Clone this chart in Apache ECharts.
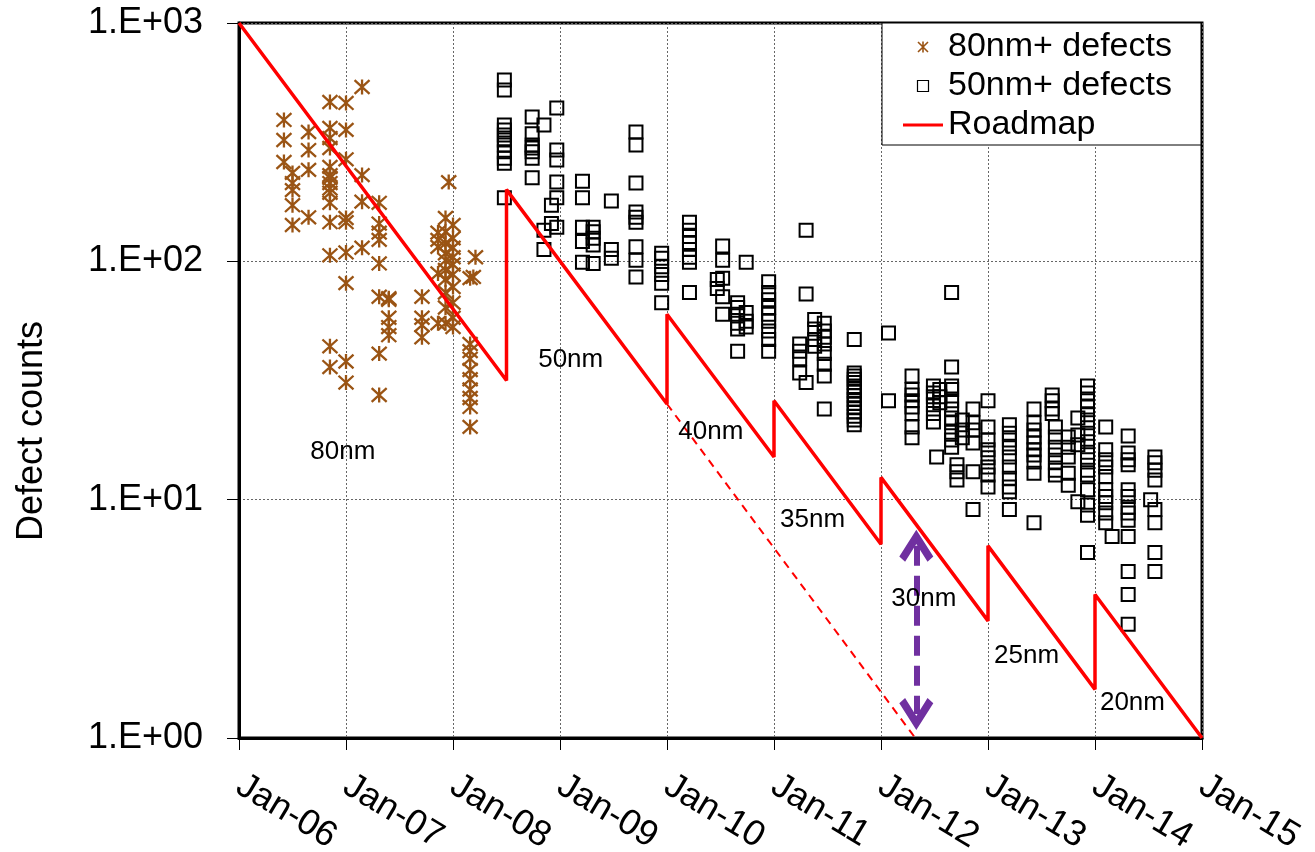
<!DOCTYPE html>
<html>
<head>
<meta charset="utf-8">
<script src="https://cdn.jsdelivr.net/npm/echarts@6/dist/echarts.min.js"></script>
<style>
html,body{margin:0;padding:0;background:#fff;}
#chart{width:1315px;height:852px;}
</style>
</head>
<body>
<div id="chart"></div>
<script>
// x values are decimal years, y values are defect counts
const xTicks = [2006, 2007, 2008, 2009, 2010, 2011, 2012, 2013, 2014, 2015];
const yTicks = [1, 10, 100, 1000];

const defects80 = [
 [2006.42,392],[2006.42,323],[2006.42,261],
 [2006.50,235],[2006.50,213],[2006.50,199],[2006.50,172],[2006.50,142],
 [2006.65,349],[2006.65,293],[2006.65,242],[2006.65,153],
 [2006.85,466],[2006.85,363],[2006.85,329],[2006.85,299],[2006.85,249],[2006.85,230],[2006.85,224],[2006.85,213],[2006.85,202],[2006.85,194],[2006.85,176],[2006.85,146],[2006.85,106],[2006.85,44],[2006.85,36],
 [2007.00,462],[2007.00,356],[2007.00,268],[2007.00,152],[2007.00,146],[2007.00,109],[2007.00,81],[2007.00,38],[2007.00,31],
 [2007.15,539],[2007.15,230],[2007.15,178],[2007.15,114],
 [2007.31,176],[2007.31,144],[2007.31,132],[2007.31,123],[2007.31,98],[2007.31,71],[2007.31,41],[2007.31,27.5],
 [2007.40,70],[2007.40,69],[2007.40,58],[2007.40,53],[2007.40,49],
 [2007.71,71],[2007.71,58],[2007.71,54],[2007.71,48],
 [2007.86,132],[2007.86,123],[2007.86,115],[2007.86,89],[2007.86,55],
 [2007.96,215],
 [2007.93,152],[2008.00,142],[2007.93,133],[2008.00,125],[2007.93,119],[2008.00,114],[2007.93,108],[2008.00,104],[2007.93,101],[2008.00,97],
 [2007.93,92],[2008.00,88],[2007.93,84],[2008.00,78],[2007.93,74],[2008.00,67],[2007.93,64],[2008.00,58],[2007.93,55],[2008.00,53],
 [2008.21,104],[2008.19,86],[2008.16,85],
 [2008.16,45],[2008.16,42],[2008.16,39],[2008.16,35],[2008.16,32],[2008.16,29],[2008.16,26.7],[2008.16,24.5],[2008.16,20.2]
];

const defects50 = [
 [2008.48,576],[2008.48,523],[2008.48,373],[2008.48,356],[2008.48,339],[2008.48,323],[2008.48,308],[2008.48,288],[2008.48,271],[2008.48,258],[2008.48,185],
 [2008.74,403],[2008.74,343],[2008.74,308],[2008.74,299],[2008.74,288],[2008.74,271],[2008.74,224],
 [2008.85,373],[2008.85,135],[2008.85,112],
 [2008.92,172],[2008.92,144],
 [2008.97,440],[2008.97,293],[2008.97,266],[2008.97,215],[2008.97,185],[2008.97,139],
 [2009.21,217],[2009.21,185],[2009.21,139],[2009.21,121],[2009.21,99],
 [2009.31,139],[2009.31,133],[2009.31,125],[2009.31,117],[2009.31,98],
 [2009.48,179],[2009.48,112],[2009.48,103],
 [2009.71,349],[2009.71,308],[2009.71,213],[2009.71,161],[2009.71,153],[2009.71,146],[2009.71,115],[2009.71,101],[2009.71,86],
 [2009.95,108],[2009.95,103],[2009.95,95],[2009.95,88],[2009.95,81],[2009.95,67],
 [2010.21,146],[2010.21,135],[2010.21,127],[2010.21,120],[2010.21,112],[2010.21,104],[2010.21,99],[2010.21,74],
 [2010.52,116],[2010.52,101],[2010.52,85],[2010.52,71],[2010.52,60],[2010.47,84],[2010.47,77],
 [2010.74,99],[2010.74,61],[2010.74,56],[2010.74,53],
 [2010.66,67],[2010.66,64],[2010.66,60],[2010.66,55],[2010.66,52],[2010.66,42],
 [2010.95,82],[2010.95,74],[2010.95,69],[2010.95,64],[2010.95,60],[2010.95,56],[2010.95,51],[2010.95,47],[2010.95,42],
 [2011.24,45],[2011.24,42],[2011.24,39],[2011.24,34],
 [2011.30,135],[2011.30,73],[2011.30,31],
 [2011.38,57],[2011.38,52],[2011.38,47],[2011.38,44],
 [2011.47,55],[2011.47,51],[2011.47,48],[2011.47,45],[2011.47,41],[2011.47,37],[2011.47,33],[2011.47,24],
 [2011.75,47],[2011.75,34],[2011.75,33],[2011.75,32],[2011.75,31],[2011.75,29.5],[2011.75,28.5],[2011.75,27.3],[2011.75,26.3],[2011.75,25.3],[2011.75,24.3],[2011.75,23.3],[2011.75,22.4],[2011.75,21.6],[2011.75,20.6],
 [2012.07,50],[2012.07,26],
 [2012.29,33],[2012.29,29],[2012.29,27.5],[2012.29,26],[2012.29,24.5],[2012.29,23],[2012.29,20.2],[2012.29,18.2],
 [2012.49,30],[2012.49,28],[2012.49,27],[2012.49,25],[2012.49,23],[2012.49,21.2],[2012.52,15.1],
 [2012.55,29],[2012.55,27],[2012.55,25.5],
 [2012.66,74],[2012.66,36],[2012.66,30],[2012.66,29],[2012.66,26],[2012.66,24],[2012.66,22],[2012.66,21],[2012.66,19.2],[2012.66,17.8],[2012.66,16.6],
 [2012.71,14],[2012.71,13.1],[2012.71,12.1],
 [2012.76,21.6],[2012.76,19.6],[2012.76,18.2],
 [2012.86,24],[2012.86,21],[2012.86,19.6],[2012.86,17.3],[2012.86,13.1],[2012.86,9.1],
 [2013.00,26],[2013.00,20.2],[2013.00,17.8],[2013.00,16.2],[2013.00,15],[2013.00,13.7],[2013.00,12.7],[2013.00,11.3],
 [2013.20,20.6],[2013.20,19],[2013.20,17.8],[2013.20,16.5],[2013.20,15.1],[2013.20,13.7],[2013.20,12.3],[2013.20,11.3],[2013.20,10.8],[2013.20,9.1],
 [2013.43,24],[2013.43,21],[2013.43,19.6],[2013.43,18.3],[2013.43,17.3],[2013.43,16.2],[2013.43,15.4],[2013.43,14.4],[2013.43,12.9],[2013.43,8],
 [2013.60,27.5],[2013.60,26],[2013.60,24],[2013.60,23],[2013.63,20.2],[2013.63,18.3],[2013.63,16.6],[2013.63,15.4],[2013.63,14.3],[2013.63,13.3],[2013.63,12.7],
 [2013.75,18.3],[2013.75,16.6],[2013.75,15.1],[2013.75,12.9],[2013.75,11.5],
 [2013.84,22],[2013.84,18.7],[2013.84,17],[2013.84,9.8],
 [2013.93,30],[2013.93,28],[2013.93,26],[2013.93,24.5],[2013.93,22.7],[2013.93,21],[2013.93,19],[2013.93,17.5],[2013.93,15.8],[2013.93,14.7],[2013.93,13.3],[2013.93,12.7],[2013.93,11],[2013.93,9.5],[2013.93,8.6],[2013.93,6],
 [2014.10,20.2],[2014.10,16.2],[2014.10,14.7],[2014.10,13.7],[2014.10,12.5],[2014.10,11],[2014.10,10.3],[2014.10,9.7],[2014.10,8.8],[2014.10,8],
 [2014.16,7],
 [2014.31,18.5],[2014.31,15.7],[2014.31,14.7],[2014.31,14],[2014.31,11],[2014.31,10.3],[2014.31,9.3],[2014.31,8.8],[2014.31,8.2],[2014.31,7],[2014.31,5],[2014.31,4],[2014.31,3],
 [2014.56,15.1],[2014.56,14.3],[2014.56,13.3],[2014.56,12.1],[2014.52,10],[2014.56,9.1],[2014.56,8],[2014.56,6],[2014.56,5]
];

const roadmapX = [2006, 2008.5, 2008.5, 2010, 2010, 2011, 2011, 2012, 2012, 2013, 2013, 2014, 2014, 2015];
const roadmapY = [1000, 31.6, 200, 25.2, 60, 15.1, 26, 6.5, 12.4, 3.1, 6.4, 1.6, 4, 1];

const extendX = [2010, 2012.32];
const extendY = [25.2, 1.0];

const arrowX = [2012.33, 2012.33];
const arrowY = [6.4, 1.26];

const nodeText = ['80nm', '50nm', '40nm', '35nm', '30nm', '25nm', '20nm'];
const nodeX = [2006.97, 2009.10, 2010.41, 2011.36, 2012.40, 2013.36, 2014.35];
const nodeY = [15.8, 38.6, 19.2, 8.2, 3.83, 2.21, 1.40];

const FONT = '"Liberation Sans", Arial, sans-serif';
const BROWN = '#9A5414';

const chart = echarts.init(document.getElementById('chart'), null, {renderer: 'canvas'});

const asterisk = 'path://M0,0L10,10M10,0L0,10M5,-0.5L5,10.5';
const squareIcon = 'path://M0,0L10,0L10,10L0,10Z';
const lineIcon = 'path://M0,0L40,0L40,3L0,3Z';
const chevron = 'path://M5,0L10,7.6L8.3,9.1L5,4L1.7,9.1L0,7.6Z';

const option = {
  animation: false,
  backgroundColor: '#fff',
  textStyle: {fontFamily: FONT},
  grid: {left: 239, right: 113, top: 23, bottom: 114, show: true, borderColor: '#000', borderWidth: 3, backgroundColor: 'transparent', containLabel: false, outerBoundsMode: 'none'},
  legend: {
    show: true,
    orient: 'vertical',
    left: 882, top: 23,
    data: [
      {name: '80nm+ defects', icon: asterisk, itemStyle: {color: 'rgba(0,0,0,0)', borderColor: BROWN, borderWidth: 1.6}},
      {name: '50nm+ defects', icon: squareIcon, itemStyle: {color: 'rgba(0,0,0,0)', borderColor: '#000', borderWidth: 1.2}},
      {name: 'Roadmap', icon: lineIcon, itemStyle: {color: '#FF0000', borderWidth: 0}}
    ],
    symbolKeepAspect: true,
    backgroundColor: '#fff',
    borderColor: '#000', borderWidth: 1, borderRadius: 0,
    padding: [7, 29, 3, 21],
    itemWidth: 40, itemHeight: 11, itemGap: 5,
    textStyle: {fontFamily: FONT, fontSize: 34, color: '#000'},
    selectedMode: false
  },
  graphic: [{
    type: 'text', x: 32, y: 431, rotation: Math.PI / 2,
    style: {text: 'Defect counts', font: '36px ' + FONT, fill: '#000', align: 'center', verticalAlign: 'middle', textAlign: 'center', textVerticalAlign: 'middle'}
  }],
  xAxis: {
    type: 'value', min: xTicks[0], max: xTicks[xTicks.length - 1], interval: 1,
    axisLine: {show: true, onZero: false, lineStyle: {color: '#000', width: 3}},
    axisTick: {show: true, length: 12, lineStyle: {color: '#000', width: 1}},
    axisLabel: {
      rotate: -31, margin: 45, interval: 0, hideOverlap: false,
      fontFamily: FONT, fontSize: 36, color: '#000',
      formatter: v => 'Jan-' + String(Math.round(v) % 100).padStart(2, '0')
    },
    splitLine: {show: true, lineStyle: {color: '#666', width: 1, type: [2, 2]}}
  },
  yAxis: {
    type: 'log', logBase: 10, min: yTicks[0], max: yTicks[yTicks.length - 1],
    axisLine: {show: true, lineStyle: {color: '#000', width: 3}},
    axisTick: {show: true, length: 12, lineStyle: {color: '#000', width: 1}},
    axisLabel: {
      margin: 36, fontFamily: FONT, fontSize: 36, color: '#000',
      formatter: v => '1.E+0' + Math.round(Math.log10(v))
    },
    splitLine: {show: true, lineStyle: {color: '#666', width: 1, type: [2, 2]}}
  },
  series: [
    {
      name: '80nm+ defects', type: 'scatter', data: defects80,
      symbol: asterisk, symbolSize: 15,
      itemStyle: {color: 'rgba(0,0,0,0)', borderColor: BROWN, borderWidth: 2.3, opacity: 1},
      z: 3, silent: true
    },
    {
      name: '50nm+ defects', type: 'scatter', data: defects50,
      symbol: 'rect', symbolSize: 13,
      itemStyle: {color: 'rgba(0,0,0,0)', borderColor: '#000', borderWidth: 2, opacity: 1},
      z: 3, silent: true
    },
    {
      name: 'Roadmap', type: 'line', data: roadmapX.map((x, i) => [x, roadmapY[i]]),
      symbol: 'none', lineStyle: {color: '#FF0000', width: 3.5}, itemStyle: {color: '#FF0000'},
      z: 4, silent: true
    },
    {
      name: 'extension', type: 'line', data: extendX.map((x, i) => [x, extendY[i]]),
      symbol: 'none', lineStyle: {color: '#FF0000', width: 2, type: [8, 6]},
      z: 4, silent: true
    },
    {
      name: 'arrow', type: 'line', data: [], silent: true,
      markLine: {
        silent: true, animation: false,
        symbol: [chevron, chevron], symbolSize: [34, 32],
        label: {show: false},
        lineStyle: {color: '#7030A0', width: 6, type: [20, 10]},
        emphasis: {disabled: true},
        data: [[{coord: [arrowX[0], arrowY[0]]}, {coord: [arrowX[1], arrowY[1]]}]]
      },
      z: 5
    },
    {
      name: 'nodes', type: 'scatter', symbolSize: 0, silent: true,
      data: nodeX.map((x, i) => [x, nodeY[i], nodeText[i]]),
      itemStyle: {opacity: 1},
      label: {show: true, position: 'inside', formatter: p => p.data[2], fontFamily: FONT, fontSize: 26, color: '#000', opacity: 1, textBorderWidth: 0, textBorderColor: 'transparent'},
      z: 6
    }
  ]
};
chart.setOption(option);
</script>
</body>
</html>
